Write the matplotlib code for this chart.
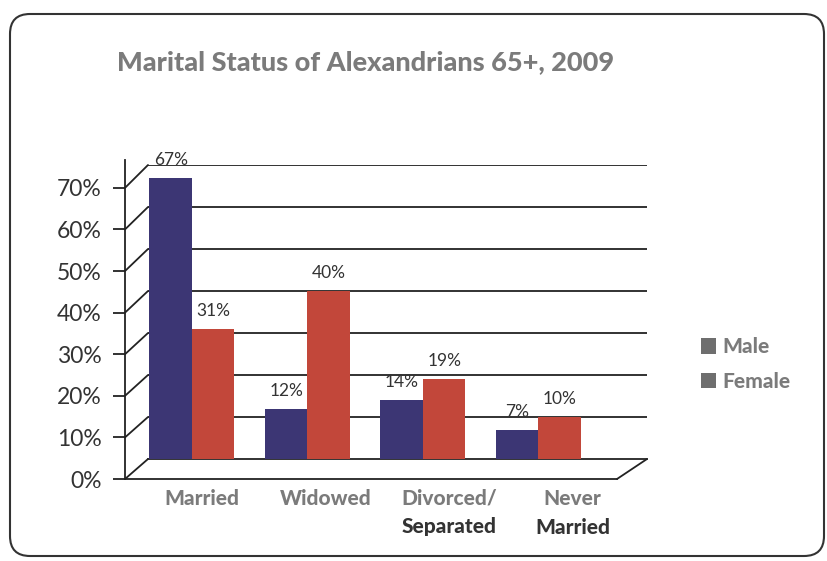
import numpy as np
import matplotlib.pyplot as plt
from matplotlib.patches import ConnectionPatch, FancyBboxPatch, Patch
from matplotlib import transforms

plt.rcParams['font.family'] = ['Lato', 'DejaVu Sans']

# data
categories = ["Married", "Widowed", "Divorced/", "Never"]
categories_line2 = ["", "", "Separated", "Married"]
male = [67, 12, 14, 7]
female = [31, 40, 19, 10]
series_names = ["Male", "Female"]
y_ticks = [0, 10, 20, 30, 40, 50, 60, 70]

male_color = '#3c3674'
female_color = '#c2473a'
line_color = '#222222'
gray_text = '#7b7b7b'
dark_text = '#333333'

W, H = 828, 561
fig = plt.figure(figsize=(W / 100, H / 100), dpi=100)


def box(l, t, r, b):
    # pixel box (from top-left) -> figure fraction rect
    return [l / W, 1 - b / H, (r - l) / W, (b - t) / H]


# back wall (bars + gridlines)
ax = fig.add_axes(box(148, 165, 647, 459))
ax.patch.set_visible(False)
x = np.arange(len(categories))
w = 0.368
b1 = ax.bar(x - w / 2, male, w, color=male_color, zorder=3)
b2 = ax.bar(x + w / 2, female, w, color=female_color, zorder=3)
for bars, vals in ((b1, male), (b2, female)):
    ax.bar_label(bars, labels=[f"{v}%" for v in vals], padding=7,
                 fontsize=12.5, color=dark_text)
ax.set_xlim(-0.38, 3.94)
ax.set_ylim(0, 70)
ax.set_yticks(y_ticks[1:])
ax.yaxis.grid(True, color=line_color, lw=1.3, zorder=1)
ax.tick_params(left=False, labelleft=False, bottom=False, labelbottom=False)
for s in ['top', 'left', 'right']:
    ax.spines[s].set_visible(False)
ax.spines['bottom'].set_color(line_color)
ax.spines['bottom'].set_linewidth(1.3)

# front axis + floor edge
axf = fig.add_axes(box(125, 160, 617, 479))
axf.patch.set_visible(False)
axf.set_ylim(0, 76.7)
axf.set_xlim(-0.623, 3.36)
axf.set_yticks(y_ticks)
axf.set_yticklabels([f"{v}%" for v in y_ticks])
axf.tick_params(axis='y', length=9, width=1.3, color=line_color, pad=8,
                labelsize=16.5, labelcolor=dark_text)
axf.set_xticks(x)
axf.set_xticklabels(categories, fontsize=15, fontweight='black', color=gray_text)
axf.tick_params(axis='x', length=0, pad=7)
for s in ['top', 'right']:
    axf.spines[s].set_visible(False)
for s in ['left', 'bottom']:
    axf.spines[s].set_color(line_color)
    axf.spines[s].set_linewidth(1.3)

trans = transforms.blended_transform_factory(axf.transData, fig.transFigure)
for i, lab in enumerate(categories_line2):
    if lab:
        axf.text(i, 1 - 527 / H, lab, transform=trans, ha='center', va='center',
                 fontsize=15, fontweight='black', color=dark_text)

# perspective connectors
xf0, xf1 = axf.get_xlim()
xb0, xb1 = ax.get_xlim()
for v in y_ticks:
    fig.add_artist(ConnectionPatch(xyA=(xf0, v), coordsA=axf.transData,
                                   xyB=(xb0, v), coordsB=ax.transData,
                                   color=line_color, lw=1.3))
fig.add_artist(ConnectionPatch(xyA=(xf1, 0), coordsA=axf.transData,
                               xyB=(xb1, 0), coordsB=ax.transData,
                               color=line_color, lw=1.3))

# title
fig.text(366 / W, 1 - 62 / H, "Marital Status of Alexandrians 65+, 2009",
         ha='center', va='center', fontsize=19.5, fontweight='black', color=gray_text)

# legend
handles = [Patch(facecolor='#6e6e6e') for _ in series_names]
fig.legend(handles, series_names, loc='center left',
           bbox_to_anchor=(682 / W, 1 - 364 / H), frameon=False,
           prop={'weight': 'black', 'size': 15}, labelcolor=gray_text,
           handlelength=0.75, handleheight=0.75, handletextpad=0.3,
           labelspacing=0.75)

# rounded frame
frame = FancyBboxPatch((0.10, 0.05), 8.14, 5.42, boxstyle="round,pad=0,rounding_size=0.2",
                       transform=fig.dpi_scale_trans, fill=False,
                       edgecolor='#333333', lw=1.5)
fig.add_artist(frame)

fig.savefig("out.png", dpi=100)
